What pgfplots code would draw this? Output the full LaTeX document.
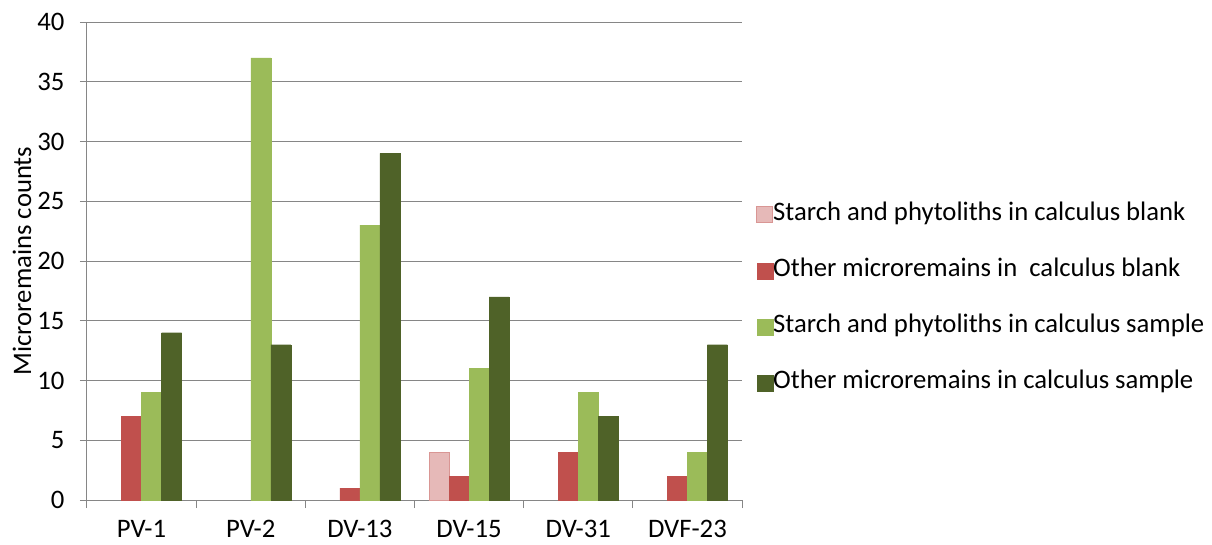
\documentclass[border=0pt]{standalone}
\usepackage{pgfplots}
\pgfplotsset{compat=1.18}
\usepackage{fontspec}
\setmainfont{Carlito}

\definecolor{blankstarch}{HTML}{E6B9B8}
\definecolor{blankstarchedge}{HTML}{D99694}
\definecolor{blankother}{HTML}{C0504D}
\definecolor{samplestarch}{HTML}{9BBB59}
\definecolor{sampleother}{HTML}{4F6228}
\definecolor{gridgray}{HTML}{868686}

\begin{document}
\begin{tikzpicture}[x=1pt,y=1pt]
\path[use as bounding box] (-87,-44) rectangle (1125,500);
\begin{axis}[
  at={(0,0)}, anchor=south west,
  scale only axis,
  width=655pt, height=478pt,
  ybar=0pt, bar width=20pt,
  xmin=-0.5, xmax=5.5,
  ymin=0, ymax=40,
  ytick={0,5,...,40},
  xtick={0,...,5},
  xticklabels={PV-1,PV-2,DV-13,DV-15,DV-31,DVF-23},
  minor xtick={-0.5,0.5,...,5.5},
  major x tick style={draw=none},
  minor x tick style={draw=gridgray, line width=1pt},
  minor tick length=8pt,
  major tick length=7pt,
  tick align=outside,
  y tick style={draw=gridgray, line width=1pt},
  axis x line*=bottom, axis y line*=left,
  axis line style={draw=gridgray, line width=1pt, -},
  ymajorgrids, grid style={draw=gridgray, line width=1pt},
  /pgf/number format/assume math mode=true,
  tick label style={font=\fontsize{26.7}{30}\selectfont, text=black},
  xticklabel style={inner sep=0pt, text depth=0pt, yshift=-13pt},
  yticklabel style={xshift=-12pt},
  ylabel={Microremains counts},
  ylabel style={font=\fontsize{26.7}{30}\selectfont,
    at={(axis description cs:0,0.5)}, anchor=center, rotate=0, yshift=65pt},
  legend style={draw=none, fill=none, at={(rel axis cs:1,0.4268)}, anchor=west,
    xshift=14pt, yshift=-3pt, inner sep=0pt,
    font=\fontsize{26.7}{30}\selectfont, row sep=32pt,
    nodes={text height=18pt, text depth=6pt, inner sep=0pt},
    /tikz/every even column/.append style={column sep=5pt}},
  legend cell align=left,
  legend image code/.code={\draw[#1] (0pt,-8pt) rectangle (16pt,8pt);},
]
% zero counts of the first series are left out so no empty outline is drawn
\addplot[fill=blankstarch, draw=blankstarchedge, line width=1pt]
  coordinates {(3,4)};
\addlegendentry{Starch and phytoliths in calculus blank}
\addplot[fill=blankother, draw=blankother, line width=0.3pt]
  coordinates {(0,7) (2,1) (3,2) (4,4) (5,2)};
\addlegendentry{Other microremains in\ \ calculus blank}
\addplot[fill=samplestarch, draw=samplestarch, line width=0.3pt]
  coordinates {(0,9) (1,37) (2,23) (3,11) (4,9) (5,4)};
\addlegendentry{Starch and phytoliths in calculus sample}
\addplot[fill=sampleother, draw=sampleother, line width=0.3pt]
  coordinates {(0,14) (1,13) (2,29) (3,17) (4,7) (5,13)};
\addlegendentry{Other microremains in calculus sample}
\end{axis}
\end{tikzpicture}
\end{document}
